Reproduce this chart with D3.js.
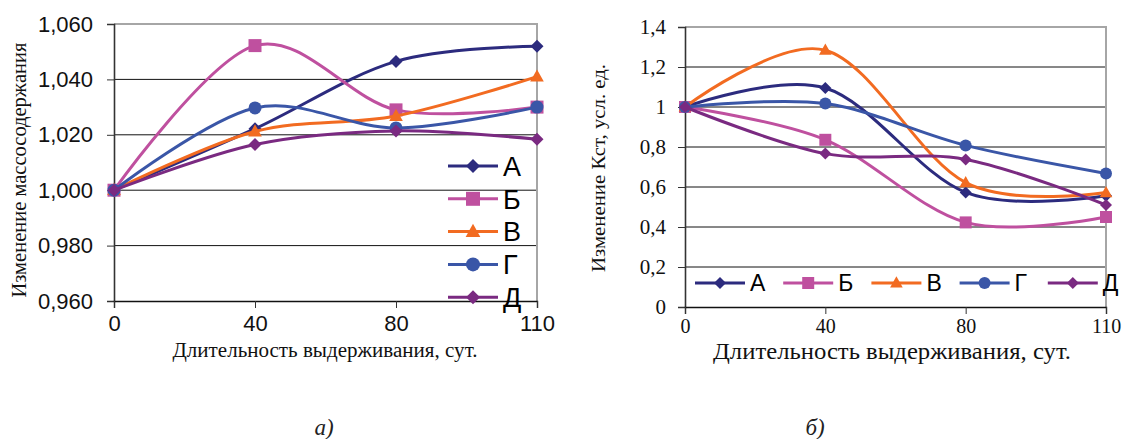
<!DOCTYPE html>
<html>
<head>
<meta charset="utf-8">
<script src="https://cdn.jsdelivr.net/npm/d3@7"></script>
<style>
  html, body { margin: 0; padding: 0; background: #fff; }
  svg { display: block; }
</style>
</head>
<body>
<svg id="fig" width="1124" height="439"></svg>
<script>
// Storage time, days (categorical axis)
const days = ["0", "40", "80", "110"];
const seriesNames = ["А", "Б", "В", "Г", "Д"];
const seriesColors = ["#2c2b7e", "#bf509f", "#f26b21", "#3a56a7", "#7a2a81"];
const seriesMarkers = ["diamond", "square", "triangle", "circle", "diamond"];

// (а) relative change of mass content
const massA = [1.000, 1.0222, 1.0465, 1.0520];
const massB = [1.000, 1.0522, 1.0290, 1.0300];
const massV = [1.000, 1.0212, 1.0268, 1.0410];
const massG = [1.000, 1.0297, 1.0225, 1.0300];
const massD = [1.000, 1.0165, 1.0214, 1.0184];
const massTicks = [0.960, 0.980, 1.000, 1.020, 1.040, 1.060];
const massTickLabels = ["0,960", "0,980", "1,000", "1,020", "1,040", "1,060"];

// (б) relative change of Kst
const kstA = [1.0, 1.095, 0.573, 0.556];
const kstB = [1.0, 0.836, 0.423, 0.450];
const kstV = [1.0, 1.284, 0.622, 0.572];
const kstG = [1.0, 1.017, 0.808, 0.668];
const kstD = [1.0, 0.767, 0.738, 0.510];
const kstTicks = [0, 0.2, 0.4, 0.6, 0.8, 1.0, 1.2, 1.4];
const kstTickLabels = ["0", "0,2", "0,4", "0,6", "0,8", "1", "1,2", "1,4"];

const SANS = "Liberation Sans";
const SERIF = "Liberation Serif";

const svg = d3.select("#fig");

function markerPath(type, size) {
  const s = size / 2;
  if (type === "diamond") return `M0,${-s}L${s},0L0,${s}L${-s},0Z`;
  if (type === "square") return `M${-s},${-s}H${s}V${s}H${-s}Z`;
  if (type === "triangle") {
    const h = size * 0.9;
    return `M0,${-h * 0.62}L${s * 1.05},${h * 0.42}L${-s * 1.05},${h * 0.42}Z`;
  }
  return d3.symbol(d3.symbolCircle, Math.PI * s * s)();
}

function drawChart(cfg) {
  const g = svg.append("g");
  const x = d3.scalePoint().domain(days).range([cfg.left, cfg.right]).padding(0);
  const y = d3.scaleLinear().domain(cfg.domain).range([cfg.bottom, cfg.top]);

  // horizontal gridlines
  g.append("g").selectAll("line")
    .data(cfg.ticks.slice(1, -1))
    .join("line")
    .attr("x1", cfg.left).attr("x2", cfg.right)
    .attr("y1", d => y(d)).attr("y2", d => y(d))
    .attr("stroke", "#111").attr("stroke-width", 1);

  // plot border (top and right in grey)
  g.append("path")
    .attr("d", `M${cfg.left},${cfg.top}H${cfg.right}V${cfg.bottom}`)
    .attr("fill", "none").attr("stroke", "#a6a6a6").attr("stroke-width", 2);

  // y axis
  const yAxis = d3.axisLeft(y).tickValues(cfg.ticks)
    .tickFormat((d, i) => cfg.tickLabels[i]).tickSize(7).tickPadding(cfg.yPad);
  const ya = g.append("g").attr("transform", `translate(${cfg.left},0)`).call(yAxis);
  ya.attr("font-family", null);
  ya.select(".domain").attr("stroke", "#333").attr("stroke-width", 1.6);
  ya.selectAll(".tick line").attr("stroke", "#333");
  ya.selectAll("text").style("font-family", cfg.tickFont).style("font-size", cfg.yTickSize + "px")
    .attr("fill", "#111");

  // x axis
  const xAxis = d3.axisBottom(x).tickSize(7).tickPadding(cfg.xPad);
  const xa = g.append("g").attr("transform", `translate(0,${cfg.bottom})`).call(xAxis);
  xa.attr("font-family", null);
  xa.select(".domain").attr("stroke", "#111").attr("stroke-width", 1.4);
  xa.selectAll(".tick line").attr("stroke", "#333");
  xa.selectAll("text").style("font-family", cfg.tickFont).style("font-size", cfg.xTickSize + "px")
    .attr("fill", "#111");

  // smoothed series lines
  const line = d3.line().x((d, i) => x(days[i])).y(d => y(d)).curve(d3.curveCardinal.tension(0));
  cfg.series.forEach((vals, k) => {
    g.append("path").attr("d", line(vals))
      .attr("fill", "none").attr("stroke", seriesColors[k])
      .attr("stroke-width", 3).attr("stroke-linejoin", "round");
    g.append("g").selectAll("path").data(vals).join("path")
      .attr("transform", (d, i) => `translate(${x(days[i])},${y(d)})`)
      .attr("d", markerPath(seriesMarkers[k], cfg.markerSize))
      .attr("fill", seriesColors[k]);
  });

  // legend
  seriesNames.forEach((name, k) => {
    const p = cfg.legendPos(k);
    const lg = g.append("g").attr("transform", `translate(${p[0]},${p[1]})`);
    lg.append("line").attr("x1", 0).attr("x2", cfg.legendLine).attr("y1", 0).attr("y2", 0)
      .attr("stroke", seriesColors[k]).attr("stroke-width", 3);
    lg.append("path").attr("transform", `translate(${cfg.legendLine / 2},0)`)
      .attr("d", markerPath(seriesMarkers[k], cfg.legendMarker)).attr("fill", seriesColors[k]);
    lg.append("text").attr("x", cfg.legendLine + 5).attr("y", 0).attr("dy", "0.36em")
      .style("font-family", SANS).style("font-size", cfg.legendFont + "px").attr("fill", "#000")
      .text(name);
  });

  // axis titles
  g.append("text")
    .attr("transform", `translate(${cfg.yTitleX},${cfg.yTitleY}) rotate(-90)`)
    .attr("text-anchor", "middle").attr("dy", "0.35em")
    .attr("textLength", cfg.yTitleLen).attr("lengthAdjust", "spacingAndGlyphs")
    .style("font-family", SERIF).style("font-size", cfg.yTitleSize + "px").attr("fill", "#111")
    .text(cfg.yTitle);
  g.append("text")
    .attr("x", cfg.xTitleX).attr("y", cfg.xTitleY)
    .attr("text-anchor", "middle")
    .attr("textLength", cfg.xTitleLen).attr("lengthAdjust", "spacingAndGlyphs")
    .style("font-family", SERIF).style("font-size", cfg.xTitleSize + "px").attr("fill", "#111")
    .text("Длительность выдерживания, сут.");

  // panel caption
  g.append("text")
    .attr("x", cfg.captionX).attr("y", 435).attr("text-anchor", "middle")
    .style("font-family", SERIF).style("font-style", "italic").style("font-size", "23px")
    .attr("fill", "#222").text(cfg.caption);
}

drawChart({
  left: 114, right: 537, top: 24, bottom: 301,
  domain: [0.960, 1.060], ticks: massTicks, tickLabels: massTickLabels,
  tickFont: SANS, yTickSize: 22, xTickSize: 22, yPad: 14, xPad: 7,
  series: [massA, massB, massV, massG, massD],
  markerSize: 13,
  legendPos: k => [448, 166 + k * 32.8], legendLine: 50, legendMarker: 14, legendFont: 27,
  yTitle: "Изменение массосодержания", yTitleX: 19, yTitleY: 170, yTitleSize: 20, yTitleLen: 255,
  xTitleX: 325, xTitleY: 357, xTitleSize: 20, xTitleLen: 305,
  caption: "а)", captionX: 324
});

drawChart({
  left: 685, right: 1106, top: 27, bottom: 307,
  domain: [0, 1.4], ticks: kstTicks, tickLabels: kstTickLabels,
  tickFont: SERIF, yTickSize: 21, xTickSize: 20, yPad: 12, xPad: 5,
  series: [kstA, kstB, kstV, kstG, kstD],
  markerSize: 12,
  legendPos: k => [695 + k * 88.2, 283], legendLine: 50, legendMarker: 12, legendFont: 23,
  yTitle: "Изменение Кст, усл. ед.", yTitleX: 598, yTitleY: 168, yTitleSize: 19, yTitleLen: 208,
  xTitleX: 892, xTitleY: 359, xTitleSize: 23, xTitleLen: 358,
  caption: "б)", captionX: 815
});
</script>
</body>
</html>
